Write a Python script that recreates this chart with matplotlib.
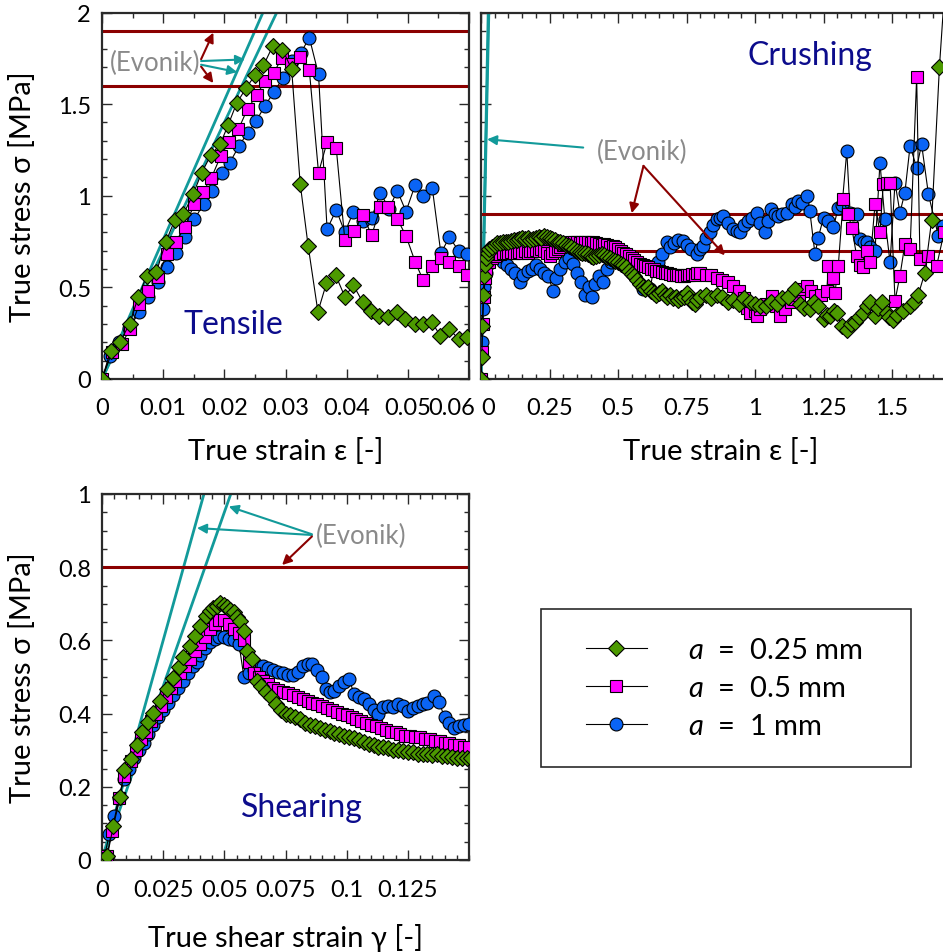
import matplotlib
matplotlib.use('Agg')
import matplotlib.pyplot as plt
from matplotlib.patches import Rectangle
from matplotlib.lines import Line2D
from matplotlib.ticker import MultipleLocator
from matplotlib.transforms import ScaledTranslation

plt.rcParams['font.family'] = ['Lato', 'DejaVu Sans']
plt.rcParams['mathtext.fontset'] = 'custom'
plt.rcParams['mathtext.it'] = 'Lato:italic'
plt.rcParams['mathtext.rm'] = 'Lato'

# ---------------- data ----------------
labels = ['$a$  =  0.25 mm', '$a$  =  0.5 mm', '$a$  =  1 mm']

# Tensile
ten_x_025 = [0.0, 0.0014, 0.0029, 0.0045, 0.0059, 0.0073, 0.0089, 0.0104, 0.0119, 0.0133, 0.0149, 0.0163,
             0.0178, 0.0193, 0.0206, 0.0220, 0.0236, 0.0250, 0.0264, 0.0279, 0.0295, 0.0310, 0.0324, 0.0337,
             0.0353, 0.0367, 0.0382, 0.0397, 0.0411, 0.0426, 0.0439, 0.0453, 0.0468, 0.0482, 0.0495, 0.0511,
             0.0524, 0.0539, 0.0553, 0.0568, 0.0583, 0.0596]
ten_y_025 = [0.0, 0.154, 0.20, 0.30, 0.445, 0.563, 0.585, 0.745, 0.868, 0.899, 1.008, 1.126,
             1.222, 1.28, 1.384, 1.504, 1.59, 1.657, 1.711, 1.816, 1.798, 1.692, 1.066, 0.727,
             0.367, 0.523, 0.567, 0.449, 0.512, 0.421, 0.372, 0.345, 0.336, 0.363, 0.327, 0.30,
             0.30, 0.312, 0.236, 0.272, 0.218, 0.227]
ten_x_05 = [0.0, 0.0016, 0.0032, 0.0046, 0.0061, 0.0076, 0.0091, 0.0106, 0.0121, 0.0135, 0.0151, 0.0165,
            0.0179, 0.0194, 0.0208, 0.0223, 0.0238, 0.0253, 0.0266, 0.0281, 0.0294, 0.0309, 0.0324, 0.0339,
            0.0354, 0.0368, 0.0383, 0.0397, 0.0412, 0.0426, 0.0441, 0.0455, 0.0468, 0.0483, 0.0497, 0.0512,
            0.0525, 0.054, 0.0554, 0.0568, 0.0583, 0.0596]
ten_y_05 = [0.0, 0.145, 0.191, 0.272, 0.409, 0.481, 0.554, 0.681, 0.748, 0.827, 0.954, 1.021,
            1.099, 1.217, 1.293, 1.362, 1.475, 1.548, 1.626, 1.671, 1.753, 1.72, 1.758, 1.684,
            1.126, 1.293, 1.259, 0.759, 0.805, 0.894, 0.785, 0.936, 0.939, 0.872, 0.781, 0.639,
            0.540, 0.618, 0.663, 0.639, 0.618, 0.567]
ten_x_1 = [0.0, 0.0013, 0.0028, 0.0044, 0.0061, 0.0076, 0.0091, 0.0106, 0.0121, 0.0136, 0.0151, 0.0166,
           0.018, 0.0196, 0.0209, 0.0224, 0.0238, 0.0252, 0.0266, 0.0281, 0.0296, 0.031, 0.0325, 0.0339,
           0.0354, 0.0368, 0.0383, 0.0397, 0.0411, 0.0426, 0.0441, 0.0455, 0.0469, 0.0483, 0.0497, 0.0512,
           0.0525, 0.054, 0.0554, 0.0568, 0.0583, 0.0596]
ten_y_1 = [0.0, 0.127, 0.2, 0.28, 0.363, 0.445, 0.53, 0.609, 0.69, 0.777, 0.872, 0.954,
           1.026, 1.126, 1.181, 1.272, 1.344, 1.408, 1.489, 1.566, 1.644, 1.735, 1.78, 1.862,
           1.662, 0.817, 0.923, 0.80, 0.912, 0.86, 0.881, 1.017, 0.93, 1.026, 0.914, 1.059,
           0.999, 1.041, 0.687, 0.774, 0.699, 0.681]

# Crushing
cru_x_025 = [0.0, 0.003, 0.005, 0.008, 0.012, 0.016, 0.02, 0.025, 0.03, 0.04, 0.05, 0.06, 0.07, 0.08, 0.09,
             0.1, 0.11, 0.12, 0.13, 0.14, 0.15, 0.16, 0.17, 0.18, 0.19, 0.2, 0.21, 0.22, 0.23, 0.24, 0.25,
             0.26, 0.27, 0.28, 0.29, 0.3, 0.31, 0.32, 0.33, 0.34, 0.35, 0.36, 0.37, 0.38, 0.39, 0.4, 0.41,
             0.42, 0.43, 0.44, 0.45, 0.46, 0.47, 0.48, 0.49, 0.5, 0.51, 0.52, 0.53, 0.54, 0.55, 0.56, 0.57,
             0.58, 0.59, 0.6, 0.61, 0.62, 0.63, 0.64, 0.65, 0.66, 0.67, 0.68, 0.69, 0.7, 0.71, 0.72, 0.73,
             0.74, 0.75, 0.76, 0.77, 0.78, 0.79, 0.8, 0.82, 0.84, 0.86, 0.88, 0.9, 0.92, 0.94, 0.96, 0.98,
             1.0, 1.02, 1.04, 1.06, 1.08, 1.1, 1.12, 1.146, 1.165, 1.18, 1.2, 1.215, 1.231, 1.25, 1.262,
             1.274, 1.29, 1.299, 1.316, 1.335, 1.35, 1.365, 1.38, 1.395, 1.41, 1.42, 1.438, 1.45, 1.462,
             1.48, 1.49, 1.505, 1.52, 1.541, 1.566, 1.58, 1.596, 1.62, 1.645, 1.673, 1.70]
cru_y_025 = [0.0, 0.12, 0.29, 0.46, 0.56, 0.62, 0.66, 0.69, 0.71, 0.72, 0.73, 0.74, 0.74, 0.75, 0.75,
             0.75, 0.755, 0.76, 0.76, 0.765, 0.77, 0.765, 0.77, 0.76, 0.765, 0.77, 0.775, 0.77, 0.78, 0.775, 0.77,
             0.765, 0.76, 0.75, 0.745, 0.74, 0.73, 0.725, 0.72, 0.71, 0.70, 0.695, 0.69, 0.685, 0.68, 0.67, 0.665,
             0.67, 0.675, 0.68, 0.675, 0.665, 0.66, 0.65, 0.645, 0.64, 0.63, 0.62, 0.61, 0.59, 0.575, 0.56, 0.54,
             0.52, 0.50, 0.49, 0.50, 0.48, 0.47, 0.46, 0.47, 0.48, 0.46, 0.45, 0.46, 0.44, 0.45, 0.43, 0.44,
             0.45, 0.47, 0.44, 0.42, 0.41, 0.43, 0.45, 0.46, 0.44, 0.46, 0.45, 0.42, 0.43, 0.41, 0.44, 0.42,
             0.41, 0.40, 0.40, 0.42, 0.41, 0.44, 0.45, 0.49, 0.41, 0.39, 0.38, 0.42, 0.40, 0.33, 0.35,
             0.345, 0.37, 0.36, 0.29, 0.27, 0.30, 0.31, 0.34, 0.36, 0.40, 0.42, 0.345, 0.39, 0.42,
             0.36, 0.34, 0.32, 0.35, 0.37, 0.40, 0.42, 0.46, 0.58, 0.87, 1.70, 2.30]
cru_x_05 = [0.0, 0.003, 0.006, 0.01, 0.015, 0.02, 0.03, 0.04, 0.05, 0.06, 0.07, 0.08, 0.09, 0.1, 0.11,
            0.12, 0.13, 0.14, 0.15, 0.16, 0.17, 0.18, 0.19, 0.2, 0.21, 0.22, 0.23, 0.24, 0.252, 0.26, 0.27,
            0.28, 0.29, 0.3, 0.31, 0.32, 0.33, 0.34, 0.35, 0.36, 0.37, 0.38, 0.39, 0.4, 0.41, 0.42, 0.43,
            0.44, 0.45, 0.46, 0.47, 0.48, 0.49, 0.5, 0.51, 0.52, 0.53, 0.54, 0.55, 0.56, 0.57, 0.58, 0.59,
            0.6, 0.61, 0.62, 0.63, 0.64, 0.65, 0.66, 0.67, 0.68, 0.69, 0.7, 0.71, 0.72, 0.73, 0.74, 0.75,
            0.76, 0.77, 0.78, 0.79, 0.8, 0.82, 0.84, 0.86, 0.88, 0.9, 0.92, 0.94, 0.96, 0.97, 0.98, 1.0,
            1.006, 1.02, 1.04, 1.061, 1.075, 1.091, 1.11, 1.13, 1.141, 1.16, 1.175, 1.19, 1.205, 1.219,
            1.24, 1.262, 1.268, 1.283, 1.292, 1.304, 1.322, 1.34, 1.353, 1.371, 1.383, 1.395, 1.41, 1.42,
            1.438, 1.456, 1.468, 1.48, 1.493, 1.511, 1.529, 1.547, 1.566, 1.59, 1.602, 1.633, 1.663, 1.69]
cru_y_05 = [0.0, 0.15, 0.30, 0.45, 0.55, 0.60, 0.64, 0.66, 0.67, 0.68, 0.68, 0.69, 0.69, 0.69, 0.695,
            0.69, 0.69, 0.695, 0.69, 0.70, 0.69, 0.70, 0.70, 0.705, 0.70, 0.71, 0.70, 0.69, 0.672, 0.69, 0.70,
            0.71, 0.72, 0.73, 0.735, 0.74, 0.745, 0.75, 0.745, 0.74, 0.745, 0.75, 0.745, 0.74, 0.745, 0.74, 0.735,
            0.73, 0.735, 0.73, 0.72, 0.725, 0.72, 0.71, 0.70, 0.69, 0.68, 0.67, 0.66, 0.65, 0.64, 0.63, 0.62,
            0.615, 0.61, 0.60, 0.60, 0.59, 0.59, 0.585, 0.58, 0.58, 0.575, 0.57, 0.57, 0.565, 0.56, 0.56, 0.565,
            0.57, 0.575, 0.57, 0.58, 0.58, 0.57, 0.565, 0.55, 0.54, 0.53, 0.51, 0.48, 0.44, 0.39, 0.36, 0.37,
            0.345, 0.38, 0.41, 0.454, 0.40, 0.345, 0.38, 0.42, 0.436, 0.46, 0.49, 0.509, 0.48, 0.454,
            0.46, 0.481, 0.618, 0.55, 0.472, 0.618, 0.981, 0.90, 0.826, 0.672, 0.62, 0.609, 0.70, 0.636,
            0.954, 0.80, 1.063, 1.07, 1.072, 0.427, 0.563, 0.736, 0.708, 1.649, 0.654, 0.672, 0.618, 0.80]
cru_x_1 = [0.0, 0.004, 0.008, 0.012, 0.018, 0.025, 0.035, 0.05, 0.065, 0.08, 0.095, 0.11, 0.125, 0.142,
           0.155, 0.17, 0.185, 0.2, 0.215, 0.23, 0.245, 0.264, 0.275, 0.29, 0.305, 0.32, 0.335, 0.35, 0.365,
           0.38, 0.395, 0.404, 0.415, 0.43, 0.446, 0.46, 0.475, 0.592, 0.605, 0.617, 0.63, 0.645, 0.66, 0.678,
           0.69, 0.705, 0.72, 0.738, 0.75, 0.765, 0.787, 0.8, 0.811, 0.822, 0.836, 0.848, 0.86, 0.872, 0.884,
           0.9, 0.92, 0.933, 0.945, 0.96, 0.975, 0.99, 1.006, 1.02, 1.036, 1.048, 1.06, 1.072, 1.085, 1.1,
           1.115, 1.134, 1.146, 1.158, 1.17, 1.189, 1.2, 1.219, 1.231, 1.25, 1.268, 1.286, 1.304, 1.318,
           1.335, 1.347, 1.359, 1.371, 1.383, 1.396, 1.408, 1.42, 1.438, 1.456, 1.474, 1.493, 1.511, 1.529,
           1.547, 1.566, 1.59, 1.608, 1.633, 1.669, 1.686]
cru_y_1 = [0.0, 0.20, 0.38, 0.50, 0.58, 0.63, 0.66, 0.67, 0.66, 0.64, 0.62, 0.60, 0.58, 0.53,
           0.57, 0.59, 0.60, 0.62, 0.60, 0.58, 0.56, 0.48, 0.55, 0.60, 0.64, 0.66, 0.63, 0.58, 0.53,
           0.46, 0.50, 0.45, 0.52, 0.56, 0.53, 0.60, 0.64, 0.49, 0.50, 0.49, 0.60, 0.64, 0.68, 0.745,
           0.72, 0.74, 0.76, 0.754, 0.73, 0.71, 0.681, 0.71, 0.727, 0.77, 0.80, 0.84, 0.872, 0.88, 0.89,
           0.85, 0.817, 0.81, 0.80, 0.84, 0.86, 0.88, 0.908, 0.85, 0.80, 0.86, 0.926, 0.90, 0.89, 0.90,
           0.908, 0.954, 0.94, 0.972, 0.96, 0.999, 0.917, 0.681, 0.772, 0.881, 0.86, 0.827, 0.935, 0.95,
           1.244, 0.908, 0.90, 0.899, 0.763, 0.75, 0.745, 0.72, 0.699, 1.181, 0.872, 0.636, 1.072, 0.908,
           1.017, 1.272, 1.153, 1.281, 1.008, 0.781, 0.836]

# Shearing
she_x_025 = [0.0, 0.0022, 0.0046, 0.0074, 0.009, 0.0118, 0.0145, 0.0163, 0.0186, 0.021, 0.0238, 0.0265,
             0.029, 0.0313, 0.0333, 0.0358, 0.0381, 0.0402, 0.0426, 0.044, 0.0454, 0.047, 0.0484, 0.05,
             0.0511, 0.0525, 0.0538, 0.055, 0.0563, 0.0582, 0.0593, 0.0613, 0.0634, 0.065, 0.067, 0.069,
             0.071, 0.073, 0.075, 0.077, 0.079, 0.081, 0.083, 0.085, 0.087, 0.089, 0.091, 0.093, 0.095,
             0.097, 0.099, 0.101, 0.103, 0.105, 0.107, 0.109, 0.111, 0.113, 0.115, 0.117, 0.119, 0.121,
             0.123, 0.125, 0.127, 0.129, 0.131, 0.133, 0.135, 0.137, 0.139, 0.141, 0.143, 0.145, 0.147,
             0.149, 0.151]
she_y_025 = [0.0, 0.012, 0.092, 0.171, 0.247, 0.276, 0.315, 0.349, 0.376, 0.403, 0.435, 0.467,
             0.496, 0.526, 0.554, 0.586, 0.613, 0.64, 0.668, 0.68, 0.688, 0.695, 0.702, 0.697,
             0.69, 0.683, 0.677, 0.665, 0.654, 0.627, 0.572, 0.549, 0.49, 0.475, 0.46, 0.445,
             0.425, 0.41, 0.40, 0.395, 0.39, 0.385, 0.375, 0.37, 0.365, 0.36, 0.355, 0.352, 0.348,
             0.344, 0.34, 0.336, 0.332, 0.328, 0.322, 0.318, 0.314, 0.31, 0.31, 0.305, 0.30, 0.30,
             0.298, 0.295, 0.295, 0.29, 0.29, 0.29, 0.288, 0.29, 0.285, 0.285, 0.282, 0.28, 0.28,
             0.278, 0.278]
she_x_05 = [0.0, 0.002, 0.004, 0.007, 0.009, 0.012, 0.014, 0.016, 0.018, 0.02, 0.022, 0.024, 0.026,
            0.028, 0.03, 0.032, 0.034, 0.036, 0.038, 0.04, 0.042, 0.044, 0.046, 0.048, 0.05, 0.052,
            0.054, 0.056, 0.058, 0.06, 0.062, 0.064, 0.066, 0.068, 0.07, 0.072, 0.074, 0.076, 0.078,
            0.08, 0.082, 0.084, 0.086, 0.088, 0.09, 0.092, 0.094, 0.096, 0.098, 0.1, 0.102, 0.104,
            0.106, 0.108, 0.11, 0.112, 0.114, 0.116, 0.118, 0.12, 0.122, 0.124, 0.126, 0.128, 0.13,
            0.132, 0.134, 0.136, 0.138, 0.14, 0.142, 0.144, 0.146, 0.148, 0.15]
she_y_05 = [0.0, 0.01, 0.08, 0.17, 0.23, 0.27, 0.30, 0.33, 0.35, 0.38, 0.40, 0.42, 0.445,
            0.47, 0.49, 0.51, 0.53, 0.55, 0.57, 0.59, 0.61, 0.63, 0.645, 0.655, 0.655, 0.645,
            0.63, 0.62, 0.60, 0.54, 0.51, 0.50, 0.49, 0.48, 0.47, 0.465, 0.46, 0.455, 0.45,
            0.445, 0.44, 0.435, 0.43, 0.425, 0.42, 0.415, 0.41, 0.405, 0.40, 0.395, 0.39, 0.385,
            0.38, 0.375, 0.37, 0.365, 0.36, 0.355, 0.35, 0.35, 0.345, 0.34, 0.34, 0.335, 0.335,
            0.33, 0.33, 0.325, 0.325, 0.32, 0.32, 0.315, 0.315, 0.31, 0.31]
she_x_1 = [0.001, 0.003, 0.005, 0.007, 0.009, 0.011, 0.013, 0.015, 0.017, 0.019, 0.021, 0.023, 0.025,
           0.027, 0.029, 0.031, 0.033, 0.035, 0.037, 0.0388, 0.04, 0.042, 0.044, 0.046, 0.048, 0.05,
           0.052, 0.054, 0.056, 0.058, 0.06, 0.062, 0.064, 0.066, 0.068, 0.07, 0.072, 0.074, 0.076,
           0.078, 0.08, 0.082, 0.084, 0.086, 0.088, 0.09, 0.0914, 0.093, 0.095, 0.097, 0.099, 0.101,
           0.103, 0.105, 0.107, 0.109, 0.111, 0.113, 0.115, 0.117, 0.119, 0.121, 0.123, 0.125, 0.127,
           0.129, 0.131, 0.133, 0.1357, 0.1378, 0.14, 0.142, 0.144, 0.146, 0.148, 0.15]
she_y_1 = [0.01, 0.07, 0.12, 0.17, 0.22, 0.25, 0.28, 0.30, 0.32, 0.345, 0.37, 0.39, 0.41,
           0.43, 0.45, 0.47, 0.49, 0.51, 0.53, 0.54, 0.56, 0.58, 0.595, 0.605, 0.61, 0.61,
           0.605, 0.60, 0.59, 0.50, 0.51, 0.52, 0.53, 0.53, 0.525, 0.52, 0.515, 0.51, 0.505,
           0.505, 0.515, 0.53, 0.535, 0.535, 0.52, 0.50, 0.467, 0.46, 0.462, 0.475, 0.485, 0.495,
           0.454, 0.445, 0.44, 0.426, 0.41, 0.40, 0.417, 0.42, 0.417, 0.425, 0.42, 0.408, 0.415,
           0.422, 0.426, 0.43, 0.449, 0.431, 0.39, 0.375, 0.362, 0.365, 0.37, 0.372]

# Evonik reference values (moduli as slopes, strengths as levels)
evonik_ten_moduli = [76, 70]
evonik_ten_strengths = [1.9, 1.6]
evonik_cru_moduli = [76, 70]
evonik_cru_strengths = [0.9, 0.7]
evonik_she_moduli = [24, 19]
evonik_she_strengths = [0.8]

# ---------------- styling ----------------
GREEN = '#4c9a00'
MAGENTA = '#ff00ff'
BLUE = '#0a64f5'
TEAL = '#129a9a'
DARKRED = '#8b0000'
NAVY = '#0c0c8c'
GRAY = '#8a8a8a'
SPINE = '#2a2a2a'

TICK_FS = 17
LABEL_FS = 21
PANEL_FS = 23
EVONIK_FS = 18.5

series_style = [
    dict(marker='D', ms=8.3, mfc=GREEN, zorder=5),
    dict(marker='s', ms=8.3, mfc=MAGENTA, zorder=4),
    dict(marker='o', ms=9.3, mfc=BLUE, zorder=3),
]

W, H = 943, 953
fig = plt.figure(figsize=(W / 100, H / 100), dpi=100)


def rect(l, t, r, b):
    return [l / W, 1 - b / H, (r - l) / W, (b - t) / H]


ax1 = fig.add_axes(rect(102, 13.5, 469, 380))
ax2 = fig.add_axes(rect(481, 13.5, 481 + 1.75 * 274, 380))
ax3 = fig.add_axes(rect(102, 495, 469, 861))


def plot_series(ax, xs, ys):
    handles = []
    for x, y, st in zip(xs, ys, series_style):
        h, = ax.plot(x, y, color='black', lw=0.8, marker=st['marker'], ms=st['ms'],
                     mfc=st['mfc'], mec='black', mew=0.8, zorder=st['zorder'])
        handles.append(h)
    return handles


def style_axes(ax):
    for s in ax.spines.values():
        s.set_linewidth(1.6)
        s.set_color(SPINE)
    ax.tick_params(which='both', direction='in', top=True, right=True, color=SPINE, width=1.0,
                   labelsize=TICK_FS)
    ax.tick_params(which='major', length=7)
    ax.tick_params(which='minor', length=3.5)
    ax.tick_params(axis='x', pad=13)
    ax.tick_params(axis='y', pad=8)


def ref_lines(ax, moduli, strengths, ymax):
    for E in moduli:
        ax.plot([0, ymax / E], [0, ymax], color=TEAL, lw=2.0, zorder=2)
    for s in strengths:
        ax.axhline(s, color=DARKRED, lw=2.2, zorder=2)


def arrow(ax, start, tip, color):
    ax.annotate('', xy=tip, xytext=start, zorder=6,
                arrowprops=dict(arrowstyle='-|>', color=color, lw=1.5, mutation_scale=14,
                                shrinkA=0, shrinkB=0))


# ---- Tensile ----
ref_lines(ax1, evonik_ten_moduli, evonik_ten_strengths, 2.2)
plot_series(ax1, [ten_x_025, ten_x_05, ten_x_1], [ten_y_025, ten_y_05, ten_y_1])
ax1.set_xlim(0, 0.06)
ax1.set_ylim(0, 2)
ax1.set_xticks([0, 0.01, 0.02, 0.03, 0.04, 0.05, 0.06], ['0', '0.01', '0.02', '0.03', '0.04', '0.05', '0.06'])
ax1.xaxis.set_minor_locator(MultipleLocator(0.005))
ax1.set_yticks([0, 0.5, 1, 1.5, 2], ['0', '0.5', '1', '1.5', '2'])
ax1.yaxis.set_minor_locator(MultipleLocator(0.1))
style_axes(ax1)
last = ax1.get_xticklabels()[-1]
last.set_horizontalalignment('right')
last.set_transform(last.get_transform() + ScaledTranslation(6 / 100, 0, fig.dpi_scale_trans))
ax1.set_xlabel('True strain ε [-]', fontsize=LABEL_FS, labelpad=14)
ax1.set_ylabel('True stress σ [MPa]', fontsize=LABEL_FS)
ax1.text(0.0087, 1.726, '(Evonik)', color=GRAY, fontsize=EVONIK_FS, ha='center', va='center', zorder=7)
arrow(ax1, (0.0162, 1.745), (0.0182, 1.89), DARKRED)
arrow(ax1, (0.0162, 1.705), (0.0182, 1.615), DARKRED)
arrow(ax1, (0.0162, 1.735), (0.0234, 1.744), TEAL)
arrow(ax1, (0.0162, 1.715), (0.0221, 1.675), TEAL)
ax1.text(0.0214, 0.30, 'Tensile', color=NAVY, fontsize=PANEL_FS, ha='center', va='center', zorder=7)

# ---- Crushing ----
ref_lines(ax2, evonik_cru_moduli, evonik_cru_strengths, 2.2)
plot_series(ax2, [cru_x_025, cru_x_05, cru_x_1], [cru_y_025, cru_y_05, cru_y_1])
ax2.set_xlim(0, 1.75)
ax2.set_ylim(0, 2)
ax2.set_xticks([0, 0.25, 0.5, 0.75, 1, 1.25, 1.5], ['0', '0.25', '0.5', '0.75', '1', '1.25', '1.5'])
ax2.xaxis.set_minor_locator(MultipleLocator(0.05))
ax2.set_yticks([0, 0.5, 1, 1.5, 2])
ax2.yaxis.set_minor_locator(MultipleLocator(0.1))
style_axes(ax2)
ax2.tick_params(axis='y', labelleft=False)
first = ax2.get_xticklabels()[0]
first.set_horizontalalignment('left')
ax2.set_xlabel('True strain ε [-]', fontsize=LABEL_FS, labelpad=14)
ax2.text(0.588, 1.243, '(Evonik)', color=GRAY, fontsize=EVONIK_FS, ha='center', va='center', zorder=7)
arrow(ax2, (0.373, 1.263), (0.022, 1.308), TEAL)
arrow(ax2, (0.593, 1.163), (0.55, 0.905), DARKRED)
arrow(ax2, (0.593, 1.163), (0.89, 0.675), DARKRED)
ax2.text(1.2, 1.77, 'Crushing', color=NAVY, fontsize=PANEL_FS, ha='center', va='center', zorder=7)

# ---- Shearing ----
ref_lines(ax3, evonik_she_moduli, evonik_she_strengths, 1.1)
plot_series(ax3, [she_x_025, she_x_05, she_x_1], [she_y_025, she_y_05, she_y_1])
ax3.set_xlim(0, 0.15)
ax3.set_ylim(0, 1)
ax3.set_xticks([0, 0.025, 0.05, 0.075, 0.1, 0.125], ['0', '0.025', '0.05', '0.075', '0.1', '0.125'])
ax3.xaxis.set_minor_locator(MultipleLocator(0.005))
ax3.set_yticks([0, 0.2, 0.4, 0.6, 0.8, 1], ['0', '0.2', '0.4', '0.6', '0.8', '1'])
ax3.yaxis.set_minor_locator(MultipleLocator(0.05))
style_axes(ax3)
ax3.tick_params(axis='x', pad=14)
ax3.set_xlabel('True shear strain γ [-]', fontsize=LABEL_FS, labelpad=16)
ax3.set_ylabel('True stress σ [MPa]', fontsize=LABEL_FS)
ax3.text(0.0873, 0.886, '(Evonik)', color=GRAY, fontsize=EVONIK_FS, ha='left', va='center', zorder=7)
arrow(ax3, (0.0858, 0.89), (0.0518, 0.966), TEAL)
arrow(ax3, (0.0858, 0.888), (0.0388, 0.907), TEAL)
arrow(ax3, (0.0858, 0.884), (0.0736, 0.806), DARKRED)
ax3.text(0.0818, 0.144, 'Shearing', color=NAVY, fontsize=PANEL_FS, ha='center', va='center', zorder=7)

ax1.yaxis.set_label_coords(-0.18, 0.5)
ax3.yaxis.set_label_coords(-0.18, 0.5)

# ---- Legend ----
leg_handles = [Line2D([], [], color='black', lw=0.8, marker=st['marker'], ms=st['ms'],
                      mfc=st['mfc'], mec='black', mew=0.8) for st in series_style]
fig.patches.append(Rectangle((541 / W, 1 - 768 / H), 370 / W, 158 / H, transform=fig.transFigure,
                             fill=False, ec=SPINE, lw=1.2))
fig.legend(leg_handles, labels, loc='center', bbox_to_anchor=(724 / W, 1 - 689 / H), frameon=False,
           fontsize=21, handlelength=2.1, handletextpad=1.4, labelspacing=0.42)

fig.savefig('out.png', dpi=100)
